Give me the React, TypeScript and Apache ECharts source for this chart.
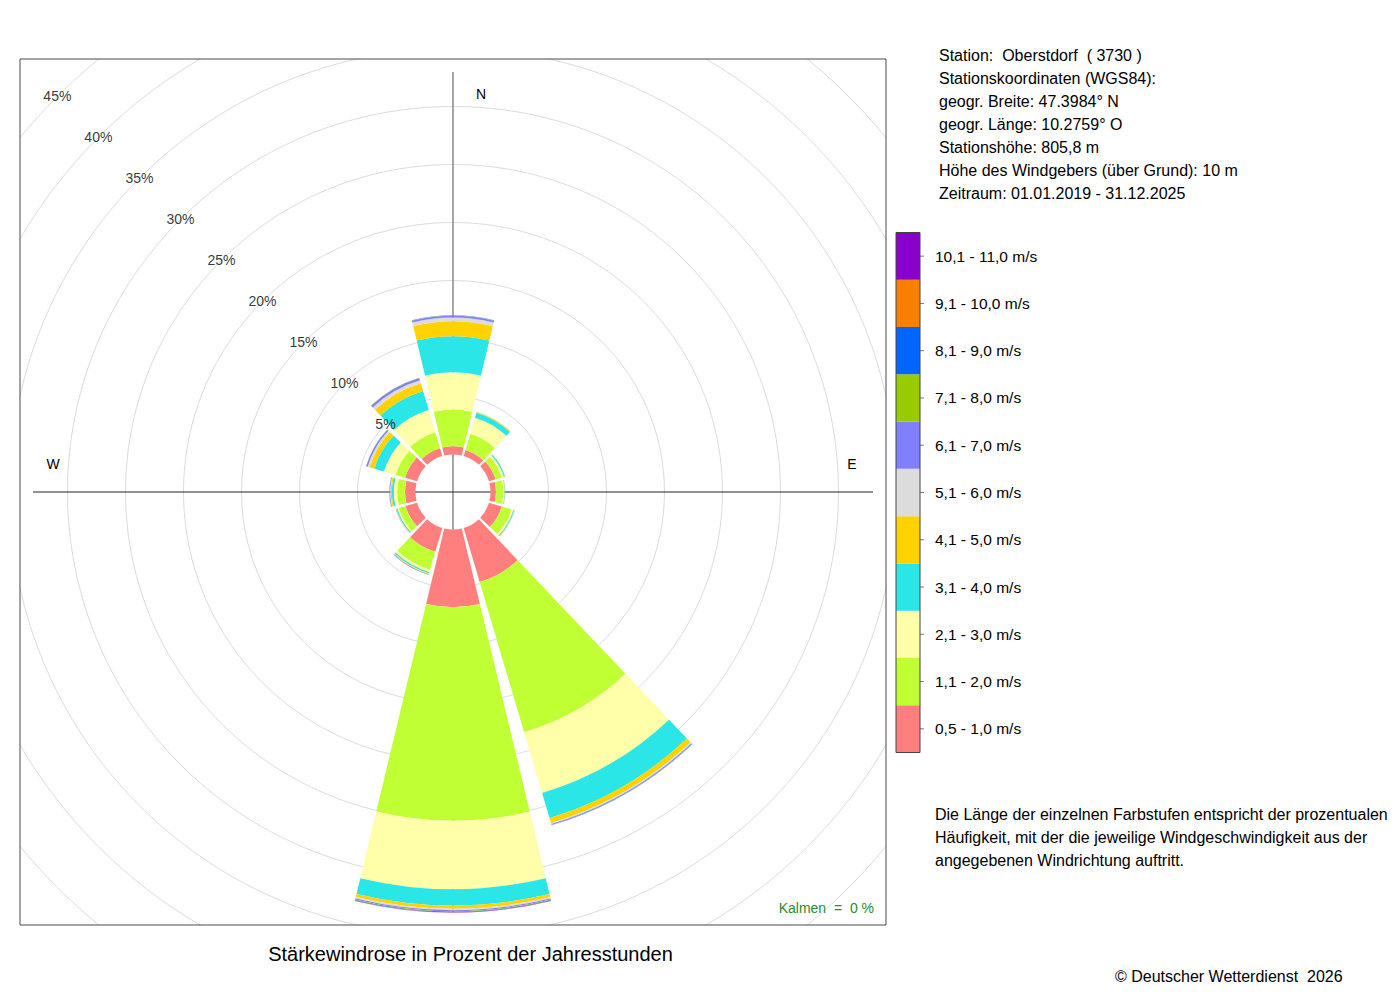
import { useEffect, useRef } from 'react';
import * as echarts from 'echarts';

const FONT = '"Liberation Sans", Arial, Helvetica, sans-serif';

// Wind directions (clockwise from north, 30° sectors)
const directions = ['N', 'NNO', 'ONO', 'O', 'OSO', 'SSO', 'S', 'SSW', 'WSW', 'W', 'WNW', 'NNW'];

// Speed classes (legend, bottom to top)
const speedClasses = [
  '0,5 - 1,0 m/s',
  '1,1 - 2,0 m/s',
  '2,1 - 3,0 m/s',
  '3,1 - 4,0 m/s',
  '4,1 - 5,0 m/s',
  '5,1 - 6,0 m/s',
  '6,1 - 7,0 m/s',
  '7,1 - 8,0 m/s',
  '8,1 - 9,0 m/s',
  '9,1 - 10,0 m/s',
  '10,1 - 11,0 m/s',
];
const classColors = [
  '#FF7F7F', '#C0FF33', '#FFFFAA', '#2AE6E6', '#FFD200', '#DCDCDC',
  '#8080FF', '#99CC00', '#0066FF', '#F78000', '#8800CC',
];

// Percent of annual hours, per direction (N, NNO, ONO, O, OSO, SSO, S, SSW, WSW, W, WNW, NNW)
const speed05to10 = [0.72, 0.55, 0.60, 0.47, 1.16, 4.87, 6.70, 2.15, 1.05, 0.90, 1.08, 0.70];
const speed11to20 = [3.16, 1.45, 0.56, 0.63, 0.87, 13.50, 18.40, 1.60, 0.60, 0.68, 0.86, 1.45];
const speed21to30 = [3.21, 1.45, 0.18, 0.10, 0.17, 5.45, 5.90, 0.20, 0.12, 0.29, 1.03, 2.00];
const speed31to40 = [3.10, 0.45, 0.10, 0.04, 0.08, 2.25, 1.40, 0.12, 0.10, 0.17, 0.87, 1.70];
const speed41to50 = [1.29, 0.06, 0.03, 0.02, 0.03, 0.45, 0.28, 0.06, 0.03, 0.10, 0.43, 0.70];
const speed51to60 = [0.32, 0.02, 0.01, 0.01, 0.01, 0.10, 0.12, 0.03, 0.02, 0.05, 0.17, 0.27];
const speed61to70 = [0.15, 0.01, 0.00, 0.01, 0.01, 0.08, 0.10, 0.05, 0.02, 0.06, 0.13, 0.20];
const speed71to80 = [0.03, 0.00, 0.00, 0.00, 0.00, 0.02, 0.04, 0.01, 0.00, 0.01, 0.01, 0.02];
const speed81to90 = [0.01, 0.00, 0.00, 0.00, 0.00, 0.02, 0.05, 0.00, 0.00, 0.00, 0.01, 0.01];
const speed91to100 = [0.00, 0.00, 0.00, 0.00, 0.00, 0.00, 0.02, 0.00, 0.00, 0.00, 0.00, 0.00];
const speed101to110 = [0.00, 0.00, 0.00, 0.00, 0.00, 0.00, 0.02, 0.00, 0.00, 0.00, 0.00, 0.00];

const classValues = [
  speed05to10, speed11to20, speed21to30, speed31to40, speed41to50, speed51to60,
  speed61to70, speed71to80, speed81to90, speed91to100, speed101to110,
];

// Ring labels
const ringTicks = [5, 10, 15, 20, 25, 30, 35, 40, 45];
const ringLabelAngle = 315;

const infoLines = [
  'Station:  Oberstdorf  ( 3730 )',
  'Stationskoordinaten (WGS84):',
  'geogr. Breite: 47.3984° N',
  'geogr. Länge: 10.2759° O',
  'Stationshöhe: 805,8 m',
  'Höhe des Windgebers (über Grund): 10 m',
  'Zeitraum: 01.01.2019 - 31.12.2025',
];
const noteLines = [
  'Die Länge der einzelnen Farbstufen entspricht der prozentualen',
  'Häufigkeit, mit der die jeweilige Windgeschwindigkeit aus der',
  'angegebenen Windrichtung auftritt.',
];
const titleText = 'Stärkewindrose in Prozent der Jahresstunden';
const calmText = 'Kalmen  =  0 %';
const copyrightText = '© Deutscher Wetterdienst  2026';

function buildOption() {
  const C = [453, 492];
  const R0 = 37.5;
  const R1 = 617.5;

  const barSeries = classValues.map((vals, k) => ({
    type: 'bar',
    name: speedClasses[k],
    coordinateSystem: 'polar',
    polarIndex: 0,
    stack: 'rose',
    data: vals,
    barCategoryGap: '10%',
    itemStyle: { color: classColors[k] },
    silent: true,
    z: 2,
  }));

  const labelSeries = {
    type: 'scatter',
    coordinateSystem: 'polar',
    polarIndex: 1,
    data: ringTicks.map((t) => [t, ringLabelAngle]),
    symbol: 'circle',
    symbolSize: 1,
    itemStyle: { color: 'rgba(0,0,0,0)' },
    label: {
      show: true,
      position: 'inside',
      formatter: (p: any) => p.value[0] + '%',
      fontSize: 14,
      fontFamily: FONT,
      color: '#000',
    },
    silent: true,
    z: 5,
  };

  const hidden = {
    axisLine: { show: false },
    axisTick: { show: false },
    axisLabel: { show: false },
    splitLine: { show: false },
  };

  const ringColors = ['rgba(0,0,0,0)'].concat(ringTicks.map(() => '#dcdcdc'), ['#dcdcdc']);

  const graphic: any[] = [];
  // white covers outside the frame (clip the rings)
  const coverZ = 10;
  graphic.push(
    { type: 'rect', shape: { x: 0, y: 0, width: 1400, height: 58.5 }, style: { fill: '#fff' }, z: coverZ, silent: true },
    { type: 'rect', shape: { x: 0, y: 925.5, width: 1400, height: 80 }, style: { fill: '#fff' }, z: coverZ, silent: true },
    { type: 'rect', shape: { x: 0, y: 0, width: 19.5, height: 1000 }, style: { fill: '#fff' }, z: coverZ, silent: true },
    { type: 'rect', shape: { x: 886.5, y: 0, width: 520, height: 1000 }, style: { fill: '#fff' }, z: coverZ, silent: true },
    {
      type: 'rect',
      shape: { x: 20, y: 59, width: 866, height: 866 },
      style: { fill: 'none', stroke: '#4a4a4a', lineWidth: 1 },
      z: 11,
      silent: true,
    }
  );

  const txt = (text: string, x: number, y: number, size: number, align = 'left', color = '#000') => ({
    type: 'text',
    x,
    y,
    style: {
      text,
      font: `${size}px ${FONT}`,
      fill: color,
      textAlign: align,
      textVerticalAlign: 'middle',
    },
    z: 12,
    silent: true,
  });

  // compass labels
  graphic.push(txt('N', 481, 94, 14, 'center'));
  graphic.push(txt('W', 53, 464, 14, 'center'));
  graphic.push(txt('E', 852, 464, 14, 'center'));

  // info block
  infoLines.forEach((l, i) => graphic.push(txt(l, 939, 55 + i * 23.15, 16)));
  noteLines.forEach((l, i) => graphic.push(txt(l, 935, 814 + i * 23, 16)));
  graphic.push(txt(titleText, 470.5, 954, 20, 'center'));
  graphic.push(txt(calmText, 874, 908, 14, 'right', '#2a8b2a'));
  graphic.push(txt(copyrightText, 1115, 976, 16));

  // colour legend
  const lx = 896, lw = 24, ltop = 232.5, lbot = 752.5;
  const cell = (lbot - ltop) / speedClasses.length;
  speedClasses.forEach((name, k) => {
    const yTop = lbot - (k + 1) * cell;
    graphic.push({
      type: 'rect',
      shape: { x: lx, y: yTop, width: lw, height: cell },
      style: { fill: classColors[k] },
      z: 12,
      silent: true,
    });
    const yc = yTop + cell / 2;
    graphic.push({
      type: 'line',
      shape: { x1: lx + lw, y1: yc, x2: lx + lw + 4, y2: yc },
      style: { stroke: '#777', lineWidth: 1 },
      z: 12,
      silent: true,
    });
    graphic.push(txt(name, 935, yc, 15.5));
  });
  graphic.push({
    type: 'rect',
    shape: { x: lx, y: ltop, width: lw, height: lbot - ltop },
    style: { fill: 'none', stroke: '#444', lineWidth: 1 },
    z: 13,
    silent: true,
  });

  return {
    animation: false,
    backgroundColor: '#fff',
    polar: [
      { center: C, radius: [R0, R1] },
      { center: C, radius: [R0, R1] },
      { center: C, radius: [0, 420] },
      { center: C, radius: [0, 420] },
    ],
    angleAxis: [
      { polarIndex: 0, type: 'category', data: directions, startAngle: 105, clockwise: true, ...hidden },
      { polarIndex: 1, type: 'value', min: 0, max: 360, startAngle: 90, clockwise: true, ...hidden },
      {
        polarIndex: 2, type: 'value', min: 0, max: 360, interval: 180, startAngle: 90, clockwise: true,
        axisLine: { show: false }, axisTick: { show: false }, axisLabel: { show: false },
        splitLine: { show: true, lineStyle: { color: '#8a8a8a', width: 1.5 } },
        z: 1,
      },
      {
        polarIndex: 3, type: 'value', min: 0, max: 360, interval: 180, startAngle: 0, clockwise: true,
        axisLine: { show: false }, axisTick: { show: false }, axisLabel: { show: false },
        splitLine: { show: true, lineStyle: { color: '#222', width: 1 } },
        z: 1,
      },
    ],
    radiusAxis: [
      {
        polarIndex: 0, type: 'value', min: 0, max: 50, interval: 5,
        axisLine: { show: false }, axisTick: { show: false }, axisLabel: { show: false },
        splitLine: { show: true, lineStyle: { color: ringColors, width: 1 } },
        z: 0,
      },
      { polarIndex: 1, type: 'value', min: 0, max: 50, ...hidden },
      { polarIndex: 2, type: 'value', min: 0, max: 1, ...hidden },
      { polarIndex: 3, type: 'value', min: 0, max: 1, ...hidden },
    ],
    series: [...barSeries, labelSeries],
    graphic: { elements: graphic },
  };
}

export default function App() {
  const ref = useRef<HTMLDivElement>(null);
  useEffect(() => {
    if (!ref.current) return;
    const chart = echarts.init(ref.current, null, { renderer: 'svg' });
    chart.setOption(buildOption() as any);
    return () => chart.dispose();
  }, []);
  return (
    <div
      ref={ref}
      style={{ position: 'absolute', left: 0, top: 0, width: 1400, height: 1000, background: '#fff' }}
    />
  );
}
